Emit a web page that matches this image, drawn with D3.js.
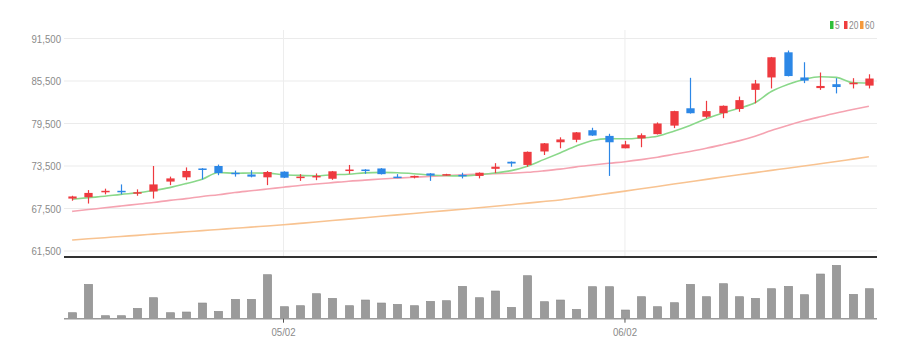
<!DOCTYPE html>
<html><head><meta charset="utf-8">
<script src="https://cdn.jsdelivr.net/npm/d3@7"></script>
<style>body{margin:0;background:#fff}svg{display:block}</style>
</head><body><svg id="c" width="916" height="358"></svg>
<script>
const dates = ["04/13","04/14","04/15","04/18","04/19","04/20","04/21","04/22","04/25","04/26","04/27","04/28","04/29",
"05/02","05/03","05/04","05/06","05/09","05/10","05/11","05/12","05/13","05/16","05/17","05/18","05/19","05/20","05/23","05/24","05/25","05/26","05/27","05/30","05/31",
"06/02","06/03","06/07","06/08","06/09","06/10","06/13","06/14","06/15","06/16","06/17","06/20","06/21","06/22","06/23","06/24"];
const open  = [68900,69100,69800,70000,69700,69900,71300,71900,73150,73500,72550,72300,71900,72700,71850,71950,71700,72800,73000,73150,72000,71900,72450,72200,72250,72100,73100,74100,73650,75550,76850,77200,78550,77750,76000,77400,78000,79200,81650,80450,80950,81550,84250,86000,89550,86000,84500,85050,85050,84850];
const close = [69200,69700,70000,69800,69800,70900,71750,72800,72950,72500,72350,72000,72650,71850,72000,72100,72750,73000,72800,72350,71800,72100,72150,72350,72100,72550,73400,73850,75500,76700,77250,78250,77800,76850,76550,77850,79500,81250,80950,81250,82000,82800,85150,88850,86200,85550,84800,84650,85250,85850];
const high  = [69300,70100,70300,70900,70200,73500,72000,73300,73200,73700,72850,72900,72800,72750,72350,72450,72800,73650,73050,73200,72350,72150,72500,72400,72550,72600,73900,74150,75550,76750,77550,78300,78900,78050,77050,78100,79650,81300,85950,82700,82050,83300,85650,88900,89800,88150,86700,85900,85900,86450];
const low   = [68600,68200,69500,69500,69300,68900,70800,71500,71600,72200,72000,71900,70800,71800,71400,71500,71550,72400,72400,72300,71800,71750,71400,72150,71750,71750,72500,73400,73400,75050,76000,76850,77750,72100,76000,76150,77950,78850,80900,80250,80250,81150,82350,84450,86150,85200,84250,83750,84450,84450];
const volume = [60000,344000,30000,30000,104000,210000,60000,67000,157000,74000,194000,194000,440000,120000,130000,250000,204000,130000,187000,157000,144000,130000,174000,180000,324000,210000,277000,114000,430000,170000,187000,94000,320000,320000,87000,220000,120000,160000,344000,220000,350000,220000,204000,300000,324000,240000,447000,534000,244000,300000];
const ma5  = [68800,69030,69220,69500,69700,70040,70450,71010,71640,72580,72470,72520,72490,72270,72170,72120,72270,72340,72530,72600,72540,72410,72240,72150,72100,72250,72510,72850,73480,74400,75340,76310,77100,77370,77340,77460,77710,78400,79220,80160,80990,81650,82430,84010,85000,85710,86110,86010,85290,85220];
const ma20 = [67100,67350,67600,67850,68100,68350,68650,68900,69200,69450,69750,70000,70250,70500,70750,70950,71150,71350,71500,71663,71793,71913,72020,72148,72263,72345,72428,72480,72608,72818,73063,73375,73633,73883,74110,74398,74735,75148,75555,76000,76510,77045,77695,78520,79225,79875,80445,80985,81473,81930];
const ma60 = [63050,63220,63380,63550,63710,63880,64050,64210,64380,64540,64710,64870,65040,65200,65400,65600,65800,66000,66200,66400,66600,66800,67000,67200,67400,67600,67820,68040,68260,68480,68700,69010,69320,69640,69950,70280,70610,70950,71280,71610,71950,72260,72570,72880,73190,73500,73820,74140,74470,74800];
const priceTicks = [61500,67500,73500,79500,85500,91500];
const dateTicks = ["05/02","06/02"];
const legendLabels = ["5","20","60"];

const svg = d3.select("#c");
const L = 64, R = 877;
const x = d3.scalePoint().domain(dates).range([L, R]).padding(0.5);
const step = x.step();
const bw = step * 0.51;
const y = d3.scaleLinear().domain([61500, 91500]).range([251, 38.5]);
const vy = d3.scaleLinear().domain([0, 600000]).range([318.7, 258.7]);
const UP = "#ee3a3f", DOWN = "#2c87e6";
const FONT = "'Liberation Sans Narrow','Liberation Sans',sans-serif";

// grid
const g = svg.append("g");
g.selectAll("line.h").data(priceTicks).join("line")
  .attr("x1", L).attr("x2", R).attr("y1", d => y(d)).attr("y2", d => y(d))
  .attr("stroke", "#ebebeb").attr("stroke-width", 1);
g.selectAll("line.v").data(dateTicks).join("line")
  .attr("x1", d => x(d)).attr("x2", d => x(d)).attr("y1", 30).attr("y2", 257)
  .attr("stroke", "#ededed").attr("stroke-width", 1);

// y labels
const yAxis = d3.axisLeft(y).tickValues(priceTicks).tickSize(0).tickPadding(3).tickFormat(d3.format(","));
const ya = svg.append("g").attr("transform", `translate(${L},0)`).call(yAxis);
ya.select(".domain").remove();
ya.selectAll("text").attr("fill", "#8a8a8a").attr("font-size", 11.5).attr("font-family", FONT)
  .attr("transform", "scale(0.84,1)").attr("x", -3 / 0.84);

// MA lines
const lineGen = arr => d3.line().x((d, i) => x(dates[i])).y(d => y(d)).curve(d3.curveMonotoneX)(arr);
[[ma60, "#f8c391"], [ma20, "#f5a3b1"], [ma5, "#8ad88a"]].forEach(([arr, c]) => {
  svg.append("path").attr("d", lineGen(arr)).attr("fill", "none").attr("stroke", c).attr("stroke-width", 1.6);
});

// candles
const cg = svg.append("g");
const cd = dates.map((d, i) => ({d, o: open[i], c: close[i], h: high[i], l: low[i]}));
cg.selectAll("line").data(cd).join("line")
  .attr("x1", d => Math.round(x(d.d)) + 0.5).attr("x2", d => Math.round(x(d.d)) + 0.5)
  .attr("y1", d => y(d.h)).attr("y2", d => y(d.l))
  .attr("stroke", d => d.c >= d.o ? UP : DOWN).attr("stroke-width", 1.2);
cg.selectAll("rect").data(cd).join("rect")
  .attr("x", d => Math.round(x(d.d)) + 0.5 - bw / 2).attr("width", bw)
  .attr("y", d => y(Math.max(d.o, d.c)))
  .attr("height", d => Math.max(1.5, Math.abs(y(d.o) - y(d.c))))
  .attr("fill", d => d.c >= d.o ? UP : DOWN);

// price panel bottom line
svg.append("line").attr("x1", L).attr("x2", R).attr("y1", 257).attr("y2", 257)
  .attr("stroke", "#333").attr("stroke-width", 2);

// volume
svg.append("g").selectAll("rect").data(volume).join("rect")
  .attr("x", (d, i) => Math.round(x(dates[i])) + 0.5 - bw / 2).attr("width", bw)
  .attr("y", d => vy(d)).attr("height", d => vy(0) - vy(d))
  .attr("fill", "#9b9b9b").attr("stroke", "#8a8a8a").attr("stroke-width", 0.6);

// x axis
const xAxis = d3.axisBottom(x).tickValues(dateTicks).tickSize(4).tickPadding(5);
const xa = svg.append("g").attr("transform", `translate(0,${vy(0)})`).call(xAxis);
xa.select(".domain").attr("stroke", "#9a9a9a").attr("d", `M${L},0H${R}`).attr("stroke-width", 1.5);
xa.selectAll(".tick line").attr("stroke", "#555");
xa.selectAll(".tick text").attr("fill", "#8a8a8a").attr("font-size", 11.5).attr("font-family", FONT)
  .attr("transform", "scale(0.84,1)")
  .attr("x", function(){ return 0; });
xa.selectAll(".tick").each(function(d){
  const t = d3.select(this);
  t.attr("transform", `translate(${x(d)},0)`);
  t.select("text").attr("transform", "scale(0.84,1)");
});

// legend
const legColors = ["#2fbf3a", "#ef3d3d", "#f59a3b"];
const lx = [830, 844, 860];
const lg = svg.append("g");
legendLabels.forEach((t, i) => {
  lg.append("rect").attr("x", lx[i]).attr("y", 21).attr("width", 3.5).attr("height", 8).attr("fill", legColors[i]);
  lg.append("text").attr("transform", `translate(${lx[i] + 5},29) scale(0.8,1)`).text(t)
    .attr("fill", "#8a8a8a").attr("font-size", 10.5).attr("font-family", FONT);
});
</script></body></html>
